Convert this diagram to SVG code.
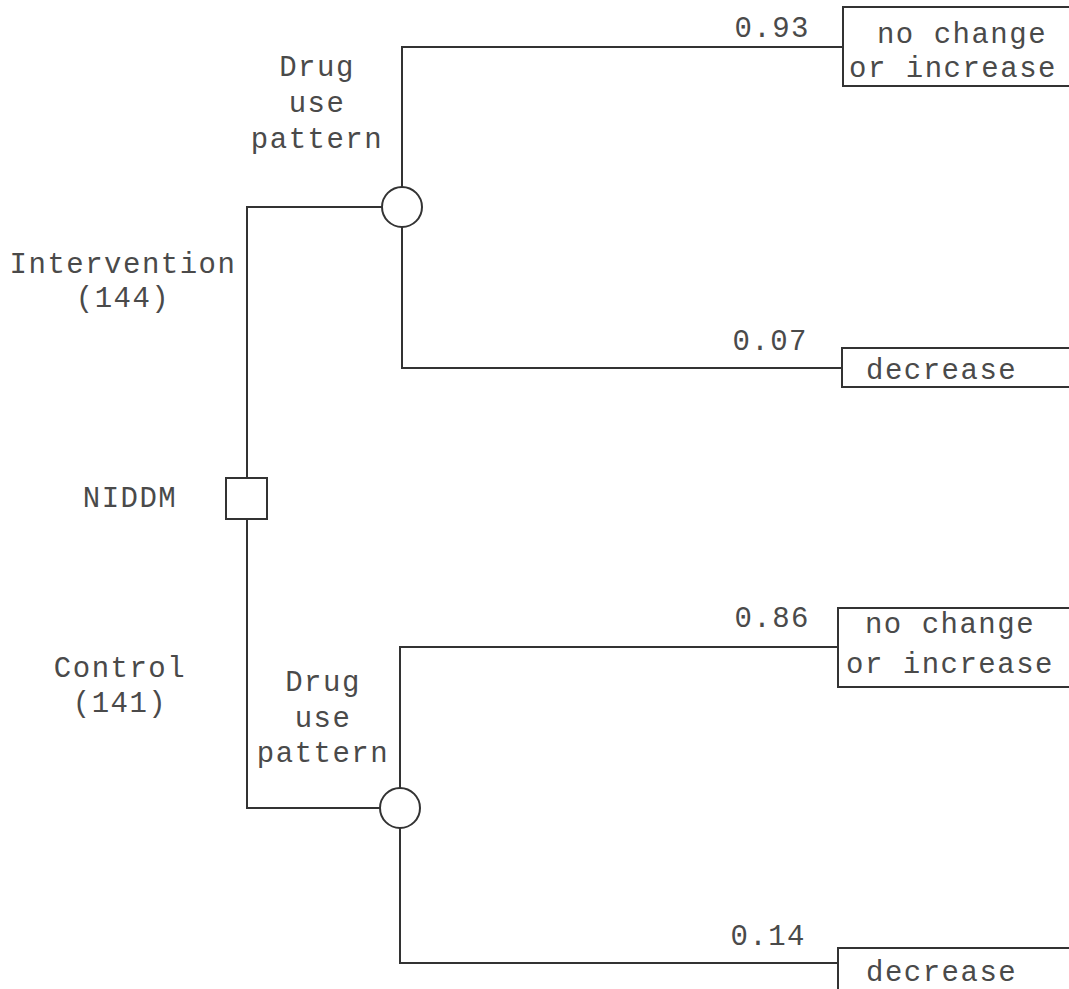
<svg xmlns="http://www.w3.org/2000/svg" width="1069" height="989" viewBox="0 0 1069 989">
<style>
.ln{stroke:#333;stroke-width:2;fill:none}
.nd{stroke:#333;stroke-width:2;fill:#fff}
.t{font-family:"Liberation Mono","DejaVu Sans Mono",monospace;font-size:29px;letter-spacing:1.5px;fill:#4a4a4a}
.m{text-anchor:middle}
.e{text-anchor:end}
</style>
<rect width="1069" height="989" fill="#fff"/>
<g id="connectors">
<polyline class="ln" points="382,207 247,207 247,478"/>
<polyline class="ln" points="247,519 247,808 380,808"/>
<polyline class="ln" points="402,187 402,47 843,47"/>
<polyline class="ln" points="402,227 402,368 842,368"/>
<polyline class="ln" points="400,788 400,647 838,647"/>
<polyline class="ln" points="400,828 400,963 838,963"/>
<text class="t e" x="810" y="37">0.93</text>
<text class="t e" x="808" y="350">0.07</text>
<text class="t e" x="810" y="627">0.86</text>
<text class="t e" x="806" y="945">0.14</text>
<text class="t m" x="123" y="273">Intervention</text>
<text class="t m" x="123" y="307">(144)</text>
<text class="t m" x="120" y="677">Control</text>
<text class="t m" x="120" y="712">(141)</text>
</g>
<g id="root">
<rect class="nd" x="226" y="478" width="41" height="41"/>
<text class="t m" x="130" y="507">NIDDM</text>
</g>
<g id="chance1">
<circle class="nd" cx="402" cy="207" r="20"/>
<text class="t m" x="317" y="76">Drug</text>
<text class="t m" x="317" y="112">use</text>
<text class="t m" x="317" y="148">pattern</text>
</g>
<g id="chance2">
<circle class="nd" cx="400" cy="808" r="20"/>
<text class="t m" x="323" y="691">Drug</text>
<text class="t m" x="323" y="727">use</text>
<text class="t m" x="323" y="762">pattern</text>
</g>
<g id="out1">
<rect class="nd" x="843" y="7" width="240" height="79"/>
<text class="t m" x="962" y="43">no change</text>
<text class="t m" x="953" y="77">or increase</text>
</g>
<g id="out2">
<rect class="nd" x="842" y="348" width="240" height="39"/>
<text class="t" x="866" y="379">decrease</text>
</g>
<g id="out3">
<rect class="nd" x="838" y="608" width="240" height="79"/>
<text class="t m" x="950" y="633">no change</text>
<text class="t m" x="950" y="673">or increase</text>
</g>
<g id="out4">
<rect class="nd" x="838" y="948" width="240" height="60"/>
<text class="t" x="866" y="981">decrease</text>
</g>
</svg>
